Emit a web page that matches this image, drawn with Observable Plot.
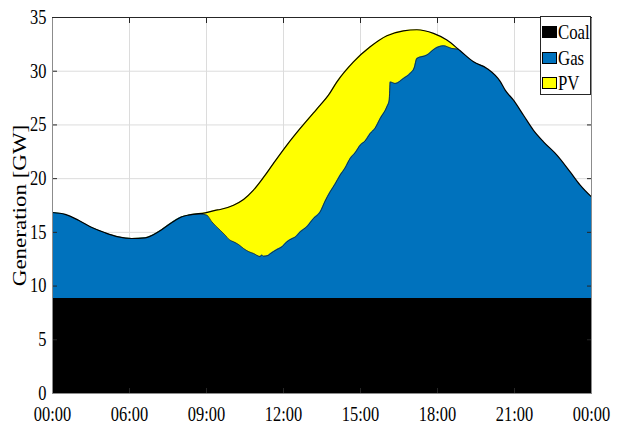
<!DOCTYPE html>
<html>
<head>
<meta charset="utf-8">
<script src="https://cdn.jsdelivr.net/npm/d3@7"></script>
<script src="https://cdn.jsdelivr.net/npm/@observablehq/plot@0.6"></script>
<style>
  body { margin: 0; background: #fff; }
  #wrap { position: relative; width: 619px; height: 424px; }
  .legend { position: absolute; left: 540px; top: 16px; width: 51px; height: 79px;
    border: 1px solid #262626; background: #fff; box-sizing: border-box;
    font-family: "Liberation Serif", "Times New Roman", serif; font-size: 21px; color: #000; }
  .legend .item { position: absolute; left: 1px; height: 14px; display: flex; align-items: center; }
  .legend .sw { width: 15px; height: 12px; border: 1px solid #000; box-sizing: border-box; margin-right: 1px; flex: none; }
  .legend .lab { display: inline-block; line-height: 14px; transform: scaleX(0.8); transform-origin: 0 50%; white-space: nowrap; }
</style>
</head>
<body>
<div id="wrap"></div>
<script>
// Evenly spaced tick slots and their labels (as printed on the reference)
const tickLabels = ["00:00", "06:00", "09:00", "12:00", "15:00", "18:00", "21:00", "00:00"];
const yTicks = [0, 5, 10, 15, 20, 25, 30, 35];

// Series names and colours
const seriesNames = ["Coal", "Gas", "PV"];
const seriesColors = ["#000000", "#0072BD", "#FFFF00"];

// Coal generation (flat band), GW
const coalX = [0, 7];
const coalY = [8.85, 8.85];

// Total generation (top of PV), GW, at slot positions
const totalX = [0, 0.165, 0.338, 0.512, 0.684, 0.857, 1.031, 1.204, 1.377, 1.551, 1.681, 1.81, 1.983, 2.113, 2.178,
  2.351, 2.481, 2.61, 2.74, 2.87, 3.044, 3.217, 3.39, 3.477, 3.584, 3.694, 3.909, 4.126, 4.343, 4.558, 4.732,
  4.948, 5.122, 5.295, 5.468, 5.642, 5.814, 5.879, 5.987, 6.117, 6.247, 6.377, 6.551, 6.723, 6.853, 7];
const totalY = [16.85, 16.67, 16.13, 15.45, 14.96, 14.58, 14.43, 14.49, 15.05, 15.92, 16.45, 16.67, 16.82, 17.05, 17.13,
  17.53, 18.06, 18.93, 20.11, 21.42, 23.12, 24.67, 26.13, 26.84, 27.77, 29.01, 30.87, 32.27, 33.3, 33.76, 33.86,
  33.52, 32.9, 31.9, 30.87, 30.26, 29.05, 28.24, 27.3, 25.9, 24.5, 23.43, 22.19, 20.63, 19.4, 18.3];

// Coal + gas generation (top of gas), GW, while PV is producing
const gasMidX = [1.766, 1.918, 2.005, 2.07, 2.12, 2.178, 2.243, 2.30, 2.351, 2.42, 2.481, 2.55, 2.61, 2.697, 2.72, 2.74,
  2.80, 2.827, 2.914, 2.98, 3.044, 3.12, 3.16, 3.217, 3.30, 3.39, 3.477, 3.54, 3.606, 3.67, 3.736, 3.80, 3.866,
  3.93, 3.996, 4.06, 4.126, 4.19, 4.256, 4.343, 4.373, 4.386, 4.451, 4.558, 4.645, 4.697, 4.732, 4.862, 4.97,
  5.078, 5.187, 5.269];
const gasMidY = [16.6, 16.7, 16.6, 15.98, 15.6, 15.2, 14.74, 14.3, 14.12, 13.85, 13.5, 13.2, 13.04, 12.75, 12.9, 12.78,
  12.85, 13.0, 13.4, 13.65, 14.12, 14.45, 14.6, 15.05, 15.5, 16.29, 16.91, 17.9, 18.77, 19.5, 20.33, 21.0, 21.88,
  22.4, 23.12, 23.5, 24.2, 24.7, 25.6, 26.69, 27.3, 29.0, 28.86, 29.33, 29.8, 30.3, 31.19, 31.5, 32.12,
  32.37, 32.12, 32.05];

const total = totalX.map((x, i) => ({x, y: totalY[i]}));
const gasMid = gasMidX.map((x, i) => ({x, y: gasMidY[i]}));
// outside the PV hours the gas top coincides with the total
const gas = [
  ...total.filter(d => d.x < gasMidX[0]),
  ...gasMid,
  ...total.filter(d => d.x > gasMidX[gasMidX.length - 1])
];
const coal = coalX.map((x, i) => ({x, y: coalY[i]}));

const axisColor = "#262626";
const smooth = "monotone-x";
const serif = "Liberation Serif, Times New Roman, serif";

const chart = Plot.plot({
  width: 619,
  height: 424,
  marginLeft: 52,
  marginRight: 28,
  marginTop: 17,
  marginBottom: 31,
  style: {fontFamily: serif, fontSize: "20px", background: "#fff", color: "#000"},
  x: {domain: [0, 7]},
  y: {domain: [0, 35]},
  marks: [
    Plot.gridX(d3.range(tickLabels.length), {stroke: "#dcdcdc", strokeOpacity: 1}),
    Plot.gridY(yTicks, {stroke: "#dcdcdc", strokeOpacity: 1}),
    Plot.areaY(total, {x: "x", y1: 0, y2: "y", fill: seriesColors[2], curve: smooth}),
    Plot.areaY(gas, {x: "x", y1: 0, y2: "y", fill: seriesColors[1], curve: smooth}),
    Plot.areaY(coal, {x: "x", y1: 0, y2: "y", fill: seriesColors[0]}),
    Plot.lineY(gasMid, {x: "x", y: "y", stroke: "#1a1a1a", strokeWidth: 0.7, curve: smooth}),
    Plot.lineY(total, {x: "x", y: "y", stroke: "#000", strokeWidth: 1.2, curve: smooth}),
    Plot.axisX({ticks: d3.range(tickLabels.length), tickFormat: i => tickLabels[i], tickSize: -5, tickPadding: 18, label: null, stroke: axisColor, fontSize: 20}),
    Plot.axisX({anchor: "top", ticks: d3.range(tickLabels.length), tickFormat: () => "", tickSize: -5, label: null, stroke: axisColor}),
    Plot.axisY({ticks: yTicks, tickSize: -5, tickPadding: 11, label: "Generation [GW]", labelAnchor: "center", labelArrow: "none", labelOffset: 40, stroke: axisColor, fontSize: 20}),
    Plot.axisY({anchor: "right", ticks: yTicks, tickFormat: () => "", tickSize: -5, label: null, stroke: axisColor}),
    Plot.frame({stroke: "#8c8c8c"}),
    Plot.frame({anchor: "top", stroke: axisColor})
  ]
});

const wrap = document.getElementById("wrap");
wrap.appendChild(chart);

// Reference type is horizontally condensed: narrow the tick labels, squash the rotated title's glyph height
chart.querySelectorAll('g[aria-label="x-axis tick label"] text, g[aria-label="y-axis tick label"] text').forEach(t => {
  const w = t.getComputedTextLength();
  if (w > 0) {
    t.setAttribute("textLength", (w * 0.82).toFixed(2));
    t.setAttribute("lengthAdjust", "spacingAndGlyphs");
  }
});
chart.querySelectorAll('g[aria-label="y-axis label"] text').forEach(t => {
  t.setAttribute("font-size", "23");
  const tr = t.getAttribute("transform") || "";
  t.setAttribute("transform", tr + " scale(1,0.8)");
});

// Legend (boxed, top right inside the axes)
const legend = document.createElement("div");
legend.className = "legend";
const rowTops = [8, 34, 59];
seriesNames.forEach((name, i) => {
  const item = document.createElement("div");
  item.className = "item";
  item.style.top = rowTops[i] + "px";
  const sw = document.createElement("span");
  sw.className = "sw";
  sw.style.background = seriesColors[i];
  const lab = document.createElement("span");
  lab.className = "lab";
  lab.textContent = name;
  item.appendChild(sw);
  item.appendChild(lab);
  legend.appendChild(item);
});
wrap.appendChild(legend);
</script>
</body>
</html>
